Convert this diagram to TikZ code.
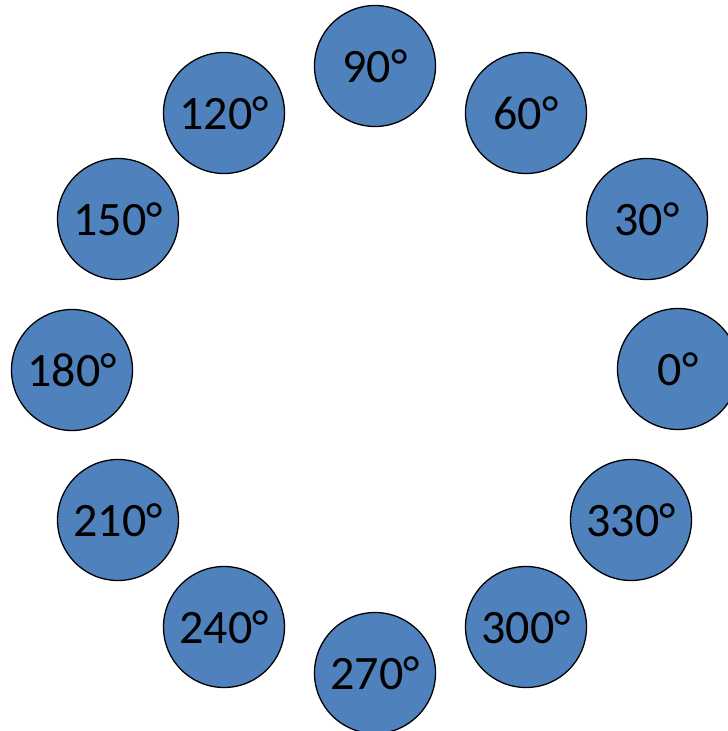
\documentclass[tikz,border=0pt]{standalone}
\usepackage{fontspec}
\setmainfont{Carlito}
\definecolor{officeblue}{HTML}{4F81BD}
\begin{document}
\begin{tikzpicture}[x=1pt,y=-1pt,
  dot/.style={circle,draw=black,line width=1.3pt,fill=officeblue,minimum size=121pt,inner sep=0pt,font=\fontsize{48}{48}\selectfont}]
\useasboundingbox (0,0) rectangle (728,731);
\clip (0,0) rectangle (728,731);
\node[dot] (a90) at (375,66) {90°};
\node[dot] (a60) at (526,113) {60°};
\node[dot] (a30) at (647,219) {30°};
\node[dot] (a0) at (678,369) {0°};
\node[dot] (a330) at (631,520) {330°};
\node[dot] (a300) at (526,627) {300°};
\node[dot] (a270) at (375,673) {270°};
\node[dot] (a240) at (224,627) {240°};
\node[dot] (a210) at (118,520) {210°};
\node[dot] (a180) at (72,370) {180°};
\node[dot] (a150) at (118,219) {150°};
\node[dot] (a120) at (224,113) {120°};
\end{tikzpicture}
\end{document}
